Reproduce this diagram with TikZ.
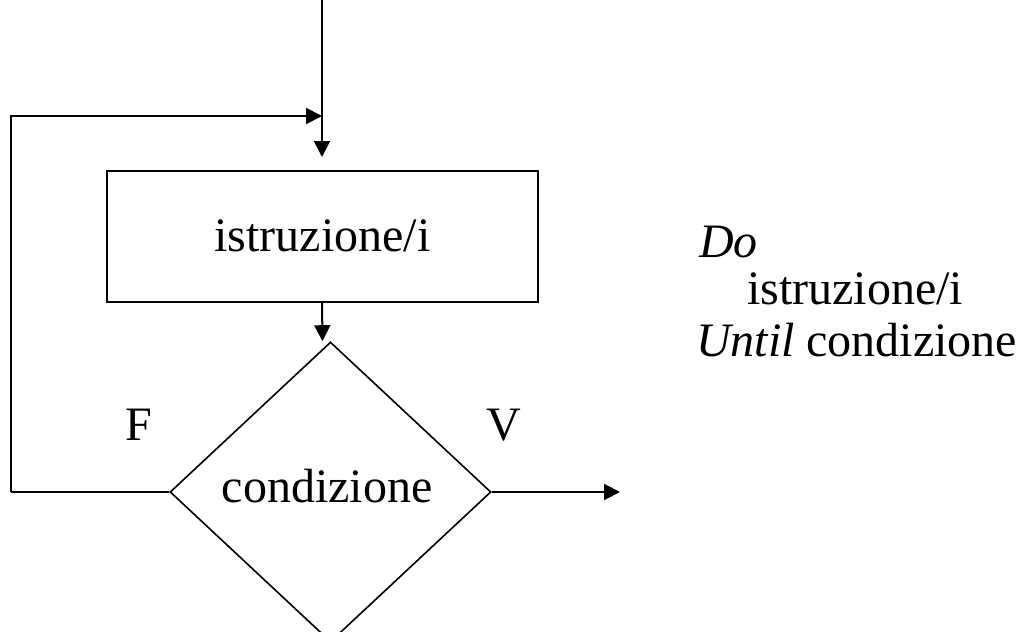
\documentclass[tikz,border=0pt]{standalone}
\usepackage{fontspec}
\setmainfont{Liberation Serif}
\usetikzlibrary{shapes.geometric,arrows.meta,calc}
\begin{document}
\begin{tikzpicture}[x=0.75pt,y=-0.75pt,
  line width=1.5pt,
  font=\fontsize{36}{42}\selectfont,
  flow/.style={-{Triangle[length=12pt,width=12pt]}},
  stepbox/.style={draw,rectangle,minimum width=323.25pt,minimum height=98.25pt,inner sep=0pt},
  decision/.style={draw,diamond,minimum width=240.75pt,minimum height=225pt,inner sep=0pt,line width=1.2pt},
  lbl/.style={inner sep=0pt,anchor=base west}]
\useasboundingbox (0,0) rectangle (1029,632);
\fill[white] (0,0) rectangle (1029,632);
\coordinate (start) at (322,0);
\coordinate (join) at (322,116);
\coordinate (lt) at (11,116);
\coordinate (lb) at (11,492);
\coordinate (out) at (620,492);
\node[stepbox] (istr) at (322.5,236) {istruzione/i};
\node[decision] (cond) at (330.5,492) {};
\node at (327,486) {condizione};
\coordinate (intop) at (322,157);
\draw[flow] (start) -- (intop);
\draw[flow] (lb) -- (lt) -- (join);
\draw[flow] (istr.south -| start) -- ($(cond.north)+(-8,0)$);
\draw (cond.west) -- (lb);
\draw[flow] (cond.east) -- (out);
\node (F) at (139,425) {F};
\node (V) at (504,425) {V};
\node[lbl] (do) at (698,257) {\itshape Do};
\node[lbl] (ist) at (746,304) {istruzione/i};
\node[lbl] (until) at (695,356) {\itshape Until\/\upshape{} condizione};
\end{tikzpicture}
\end{document}
